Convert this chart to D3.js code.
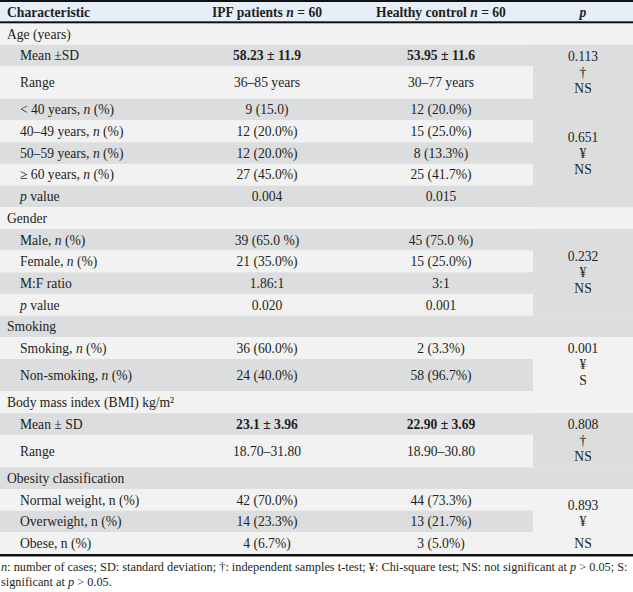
<!DOCTYPE html>
<html>
<head>
<meta charset="utf-8">
<script src="https://cdn.jsdelivr.net/npm/d3@7"></script>
<style>
body{margin:0;background:#fff;}
svg text{font-family:"Liberation Serif","Times New Roman",serif;fill:#231f20;}
</style>
</head>
<body>
<div id="table"></div>
<script>
// column headers ("*...*" marks italic)
var headers = ["Characteristic", "IPF patients *n* = 60", "Healthy control *n* = 60", "*p*"];

// row labels
var labels = [
    "Age (years)", "Mean ±SD", "Range", "< 40 years, *n* (%)", "40–49 years, *n* (%)",
    "50–59 years, *n* (%)", "≥ 60 years, *n* (%)", "*p* value",
    "Gender", "Male, *n* (%)", "Female, *n* (%)", "M:F ratio", "*p* value",
    "Smoking", "Smoking, *n* (%)", "Non-smoking, *n* (%)",
    "Body mass index (BMI) kg/m²", "Mean ± SD", "Range",
    "Obesity classification", "Normal weight, n (%)", "Overweight, n (%)", "Obese, n (%)"
];
// 0 = group heading, 1 = sub row
var level = [0,1,1,1,1,1,1,1, 0,1,1,1,1, 0,1,1, 0,1,1, 0,1,1,1];

var ipf = [
    "", "58.23 ± 11.9", "36–85 years", "9 (15.0)", "12 (20.0%)", "12 (20.0%)", "27 (45.0%)", "0.004",
    "", "39 (65.0 %)", "21 (35.0%)", "1.86:1", "0.020",
    "", "36 (60.0%)", "24 (40.0%)",
    "", "23.1 ± 3.96", "18.70–31.80",
    "", "42 (70.0%)", "14 (23.3%)", "4 (6.7%)"
];
var control = [
    "", "53.95 ± 11.6", "30–77 years", "12 (20.0%)", "15 (25.0%)", "8 (13.3%)", "25 (41.7%)", "0.015",
    "", "45 (75.0 %)", "15 (25.0%)", "3:1", "0.001",
    "", "2 (3.3%)", "58 (96.7%)",
    "", "22.90 ± 3.69", "18.90–30.80",
    "", "44 (73.3%)", "13 (21.7%)", "3 (5.0%)"
];
var boldRows = [1, 17];

// p column, merged cells
var pFirst  = [1, 3, 9, 14, 17, 20];
var pLast   = [2, 7, 12, 15, 18, 22];
var pValues = ["0.113", "0.651", "0.232", "0.001", "0.808", "0.893"];
var pTests  = ["†", "¥", "¥", "¥", "†", "¥"];
var pSig    = ["NS", "NS", "NS", "S", "NS", "NS"];

var footnote = [
    "*n*: number of cases; SD: standard deviation; †: independent samples t-test; ¥: Chi-square test; NS: not significant at *p* > 0.05; S:",
    "significant at *p* > 0.05."
];

// layout
var W = 633, H = 592;
var tallRows = [2, 15, 18];
var headTop = 2, headH = 19.5, bodyTop = 23;
var rowH = 21.675, tallH = 32.5;
var pGap = [0, 0, 0, 0, 0, 6];
var colors = {head: "#e6eef8", light: "#f2f2f2", dark: "#dcdddf"};

var heights = labels.map(function(d, i){ return tallRows.indexOf(i) >= 0 ? tallH : rowH; });
var tops = [bodyTop].concat(Array.from(d3.cumsum(heights), function(v){ return bodyTop + v; }));
var yTop = d3.scaleOrdinal().domain(d3.range(labels.length + 1)).range(tops);

var x = d3.scaleOrdinal()
    .domain(["label", "ipf", "control", "p"])
    .range([7, 267, 441, 583]);
var indent = 13;

function rich(sel, str) {
    str.split("*").forEach(function(part, i){
        if (!part) return;
        sel.append("tspan").style("font-style", i % 2 ? "italic" : null).text(part);
    });
}
function rowColor(i) { return i % 2 ? colors.dark : colors.light; }

var svg = d3.select("#table").append("svg")
    .attr("width", W).attr("height", H);

// header
svg.append("rect").attr("x", 0).attr("y", headTop).attr("width", W).attr("height", headH)
    .attr("fill", colors.head);
svg.selectAll(".head").data(headers).enter().append("text")
    .attr("class", "head")
    .attr("x", function(d, i){ return x(x.domain()[i]); })
    .attr("y", headTop + headH / 2)
    .attr("dy", "0.35em")
    .attr("text-anchor", function(d, i){ return i == 0 ? "start" : "middle"; })
    .style("font-size", "13.6px")
    .style("font-weight", "bold")
    .each(function(d){ rich(d3.select(this), d); });

// row backgrounds
svg.selectAll(".bg").data(labels).enter().append("rect")
    .attr("class", "bg")
    .attr("x", 0).attr("width", W)
    .attr("y", function(d, i){ return yTop(i); })
    .attr("height", function(d, i){ return yTop(i + 1) - yTop(i); })
    .attr("fill", function(d, i){ return rowColor(i); });

// merged p cells
svg.selectAll(".pbg").data(pValues).enter().append("rect")
    .attr("class", "pbg")
    .attr("x", 533).attr("width", W - 533)
    .attr("y", function(d, i){ return yTop(pFirst[i]); })
    .attr("height", function(d, i){ return yTop(pLast[i] + 1) - yTop(pFirst[i]); })
    .attr("fill", function(d, i){ return rowColor(pFirst[i]); });

// rules
svg.append("rect").attr("x", 0).attr("y", 0).attr("width", W).attr("height", 2).attr("fill", "#111");
svg.append("rect").attr("x", 0).attr("y", 21.3).attr("width", W).attr("height", 2).attr("fill", "#111");
svg.append("rect").attr("x", 0).attr("y", yTop(labels.length)).attr("width", W).attr("height", 2.5).attr("fill", "#111");

// rows
var rows = svg.selectAll(".row").data(labels).enter().append("g")
    .attr("class", "row")
    .attr("transform", function(d, i){ return "translate(0," + (yTop(i) + heights[i] / 2) + ")"; })
    .style("font-size", "13.6px");

rows.append("text")
    .attr("x", function(d, i){ return x("label") + level[i] * indent; })
    .attr("dy", "0.35em")
    .each(function(d){ rich(d3.select(this), d); });

rows.append("text")
    .attr("x", x("ipf"))
    .attr("dy", "0.35em")
    .attr("text-anchor", "middle")
    .style("font-weight", function(d, i){ return boldRows.indexOf(i) >= 0 ? "bold" : null; })
    .text(function(d, i){ return ipf[i]; });

rows.append("text")
    .attr("x", x("control"))
    .attr("dy", "0.35em")
    .attr("text-anchor", "middle")
    .style("font-weight", function(d, i){ return boldRows.indexOf(i) >= 0 ? "bold" : null; })
    .text(function(d, i){ return control[i]; });

// p text, three lines per merged cell
var pg = svg.selectAll(".pcell").data(pValues).enter().append("g")
    .attr("class", "pcell")
    .attr("transform", function(d, i){
        return "translate(" + x("p") + "," + (yTop(pFirst[i]) + yTop(pLast[i] + 1)) / 2 + ")";
    })
    .style("font-size", "13.6px")
    .attr("text-anchor", "middle");

pg.append("text").attr("y", -16).attr("dy", "0.35em").text(function(d){ return d; });
pg.append("text").attr("y", 0).attr("dy", "0.35em").text(function(d, i){ return pTests[i]; });
pg.append("text").attr("y", function(d, i){ return 16 + pGap[i]; }).attr("dy", "0.35em")
    .text(function(d, i){ return pSig[i]; });

// footnote
svg.selectAll(".foot").data(footnote).enter().append("text")
    .attr("class", "foot")
    .attr("x", 1)
    .attr("y", function(d, i){ return 571 + i * 14.5; })
    .style("font-size", "12.3px")
    .each(function(d){ rich(d3.select(this), d); });
</script>
</body>
</html>
